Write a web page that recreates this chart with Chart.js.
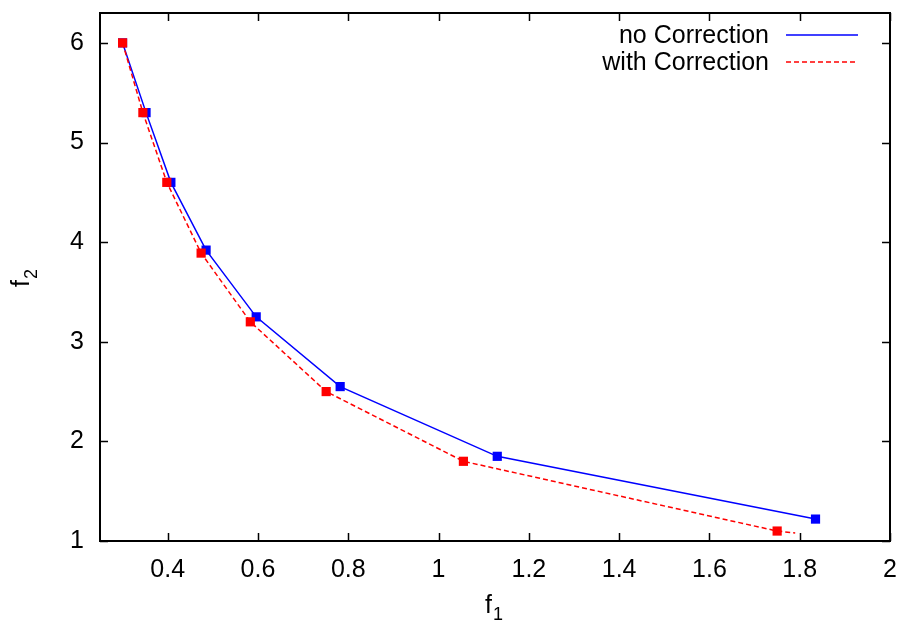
<!DOCTYPE html>
<html>
<head>
<meta charset="utf-8">
<script src="https://cdn.jsdelivr.net/npm/chart.js@4"></script>
<style>
  html, body { margin: 0; padding: 0; background: #fff; }
  canvas { display: block; }
</style>
</head>
<body>
<canvas id="chart" width="905" height="621"></canvas>
<script>
// values
const f1NoCorr = [0.30, 0.352, 0.407, 0.485, 0.596, 0.782, 1.13, 1.835];
const f2NoCorr = [6.0, 5.3, 4.6, 3.92, 3.25, 2.55, 1.85, 1.22];

const f1WithCorr = [0.30, 0.345, 0.398, 0.474, 0.583, 0.751, 1.055, 1.75, 1.79];
const f2WithCorr = [6.0, 5.3, 4.6, 3.89, 3.2, 2.5, 1.80, 1.10, 1.08];
// last red point is only where the dashed line stops, no marker there
const withCorrMarker = [1, 1, 1, 1, 1, 1, 1, 1, 0];

const xTicks = [0.4, 0.6, 0.8, 1, 1.2, 1.4, 1.6, 1.8, 2];
const yTicks = [1, 2, 3, 4, 5, 6];

const seriesNames = ["no Correction", "with Correction"];

const FONT = "'Liberation Sans', Arial, sans-serif";
const tickFont = { family: "'Liberation Sans', Arial, sans-serif", size: 25 };

// frame, inward ticks (mirrored), legend and axis titles
const decorPlugin = {
    id: "decor",
    afterDraw(chart) {
        const ctx = chart.ctx;
        const a = chart.chartArea;
        const xs = chart.scales.x, ys = chart.scales.y;
        const tl = 8;

        ctx.save();
        ctx.strokeStyle = "#000";
        ctx.lineWidth = 1.5;
        ctx.beginPath();
        xTicks.forEach(v => {
            const px = Math.round(xs.getPixelForValue(v)) + 0.5;
            ctx.moveTo(px, a.bottom); ctx.lineTo(px, a.bottom - tl);
            ctx.moveTo(px, a.top); ctx.lineTo(px, a.top + tl);
        });
        yTicks.forEach(v => {
            const py = Math.round(ys.getPixelForValue(v)) + 0.5;
            ctx.moveTo(a.left, py); ctx.lineTo(a.left + tl, py);
            ctx.moveTo(a.right, py); ctx.lineTo(a.right - tl, py);
        });
        ctx.stroke();
        ctx.lineWidth = 2;
        ctx.strokeRect(a.left, a.top, a.right - a.left, a.bottom - a.top);

        // legend
        ctx.font = "25px " + FONT;
        ctx.fillStyle = "#000";
        ctx.textAlign = "right";
        ctx.textBaseline = "middle";
        const styles = [
            { color: "#0000ff", dash: [] },
            { color: "#ff0000", dash: [5, 3] }
        ];
        seriesNames.forEach((name, i) => {
            const y = 36 + i * 27;
            ctx.fillText(name, 769, y);
            ctx.beginPath();
            ctx.setLineDash(styles[i].dash);
            ctx.strokeStyle = styles[i].color;
            ctx.lineWidth = 1.5;
            ctx.moveTo(786, y - 1);
            ctx.lineTo(858, y - 1);
            ctx.stroke();
        });
        ctx.setLineDash([]);

        // axis titles with subscripts
        ctx.fillStyle = "#000";
        ctx.textAlign = "left";
        ctx.textBaseline = "alphabetic";
        ctx.font = "25px " + FONT;
        ctx.fillText("f", 485, 613);
        ctx.font = "18px " + FONT;
        ctx.fillText("1", 493, 620);

        ctx.translate(29, 287);
        ctx.rotate(-Math.PI / 2);
        ctx.font = "25px " + FONT;
        ctx.fillText("f", 0, 0);
        ctx.font = "18px " + FONT;
        ctx.fillText("2", 8, 8);
        ctx.restore();
    }
};

const toPoints = (xs, ys) => xs.map((x, i) => ({ x: x, y: ys[i] }));

new Chart(document.getElementById("chart"), {
    type: "scatter",
    data: {
        datasets: [
            {
                label: seriesNames[0],
                data: toPoints(f1NoCorr, f2NoCorr),
                showLine: true,
                borderColor: "#0000ff",
                backgroundColor: "#0000ff",
                borderWidth: 1.5,
                pointStyle: "rect",
                pointRadius: 6.5,
                pointBorderWidth: 0,
                order: 2
            },
            {
                label: seriesNames[1],
                data: toPoints(f1WithCorr, f2WithCorr),
                showLine: true,
                borderColor: "#ff0000",
                backgroundColor: "#ff0000",
                borderWidth: 1.5,
                borderDash: [5, 3],
                pointStyle: "rect",
                pointRadius: withCorrMarker.map(m => m ? 6.5 : 0),
                pointBorderWidth: 0,
                order: 1
            }
        ]
    },
    options: {
        responsive: false,
        animation: false,
        devicePixelRatio: 1,
        layout: { padding: { top: 13, right: 15, left: 0, bottom: 0 } },
        plugins: {
            legend: { display: false },
            tooltip: { enabled: false }
        },
        scales: {
            x: {
                type: "linear",
                min: 0.25,
                max: 2,
                grid: { display: false, drawTicks: false },
                border: { display: false },
                ticks: {
                    font: tickFont,
                    color: "#000",
                    padding: 14,
                    maxRotation: 0,
                    callback: v => String(v)
                },
                afterBuildTicks: s => { s.ticks = xTicks.map(v => ({ value: v })); },
                afterFit: s => {
                    s.height = 80;
                    s.paddingLeft = 0;
                    s.paddingRight = 0;
                }
            },
            y: {
                type: "linear",
                min: 1,
                max: 6.3,
                grid: { display: false, drawTicks: false },
                border: { display: false },
                ticks: {
                    font: tickFont,
                    color: "#000",
                    padding: 16,
                    callback: v => String(v)
                },
                afterBuildTicks: s => { s.ticks = yTicks.map(v => ({ value: v })); },
                afterFit: s => {
                    s.width = 100;
                    s.paddingTop = 0;
                    s.paddingBottom = 0;
                }
            }
        }
    },
    plugins: [decorPlugin]
});
</script>
</body>
</html>
